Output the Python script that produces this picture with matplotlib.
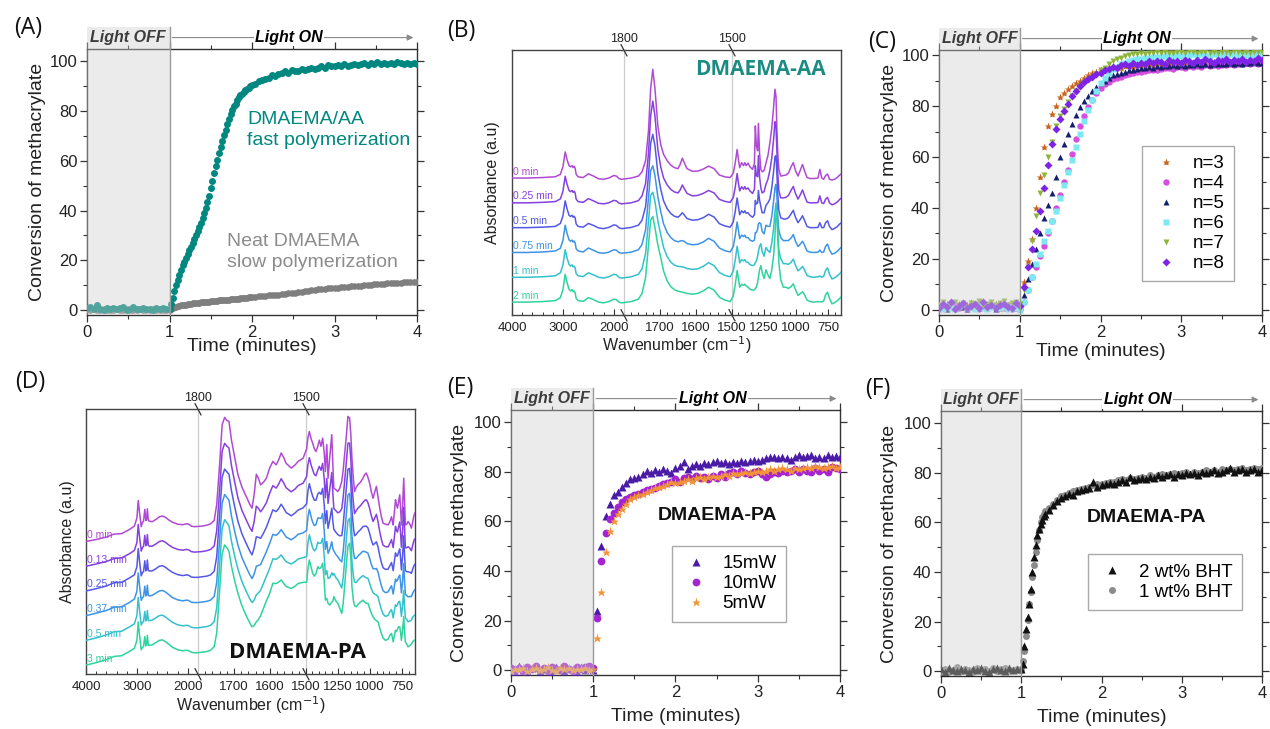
import numpy as np
import matplotlib
matplotlib.use('Agg')
import matplotlib.pyplot as plt
from matplotlib.patches import Rectangle
from matplotlib.ticker import FixedLocator, MultipleLocator, FuncFormatter

plt.rcParams['font.family'] = ['Liberation Sans', 'DejaVu Sans']

# ---------------- (A) kinetics, DMAEMA/AA vs neat DMAEMA ----------------
t_a = [0.00, 0.04, 0.08, 0.12, 0.16, 0.20, 0.24, 0.28, 0.32, 0.36,
       0.40, 0.44, 0.48, 0.52, 0.56, 0.60, 0.64, 0.68, 0.72, 0.76,
       0.80, 0.84, 0.88, 0.92, 0.96,
       1.00, 1.02, 1.04, 1.06, 1.08, 1.10, 1.12, 1.14, 1.16, 1.18,
       1.20, 1.22, 1.24, 1.26, 1.28, 1.30, 1.32, 1.34, 1.36, 1.38,
       1.40, 1.42, 1.44, 1.46, 1.48, 1.50, 1.52, 1.54, 1.56, 1.58,
       1.60, 1.62, 1.64, 1.66, 1.68, 1.70, 1.72, 1.74, 1.76, 1.78,
       1.80, 1.82, 1.84, 1.86, 1.88, 1.90, 1.92, 1.94, 1.96, 1.98,
       2.00, 2.04, 2.08, 2.12, 2.16, 2.20, 2.24, 2.28, 2.32, 2.36,
       2.40, 2.44, 2.48, 2.52, 2.56, 2.60, 2.64, 2.68, 2.72, 2.76,
       2.80, 2.84, 2.88, 2.92, 2.96, 3.00, 3.04, 3.08, 3.12, 3.16,
       3.20, 3.24, 3.28, 3.32, 3.36, 3.40, 3.44, 3.48, 3.52, 3.56,
       3.60, 3.64, 3.68, 3.72, 3.76, 3.80, 3.84, 3.88, 3.92, 3.96,
       4.00]
aa_fast = [0.8, 1.2, 0.4, 1.9, 0.6, 0.2, 1.0, 0.5, 0.9, 0.3,
           0.7, 1.1, 0.2, 0.6, 1.4, 0.5, 0.3, 0.9, 0.4, 0.6,
           0.2, 0.8, 0.5, 1.0, 0.3,
           0.5, 2.5, 5.0, 7.5, 10.0, 12.0, 14.0, 16.0, 18.0, 19.5,
           21.0, 22.5, 24.0, 25.5, 27.0, 28.5, 30.0, 31.8, 33.5, 35.2,
           37.0, 39.0, 41.0, 43.5, 46.0, 49.0, 52.0, 55.0, 58.0, 60.5,
           63.0, 65.5, 68.0, 70.3, 72.5, 74.8, 77.0, 79.0, 80.5, 82.0,
           83.0, 84.3, 85.5, 86.3, 87.0, 87.8, 88.5, 89.0, 89.5, 90.0,
           90.5, 91.0, 92.0, 92.5, 93.0, 93.5, 94.5, 94.3, 95.0, 95.5,
           96.0, 95.4, 96.5, 96.3, 96.0, 97.0, 96.5, 97.0, 97.5, 96.8,
           97.5, 98.0, 97.4, 98.5, 98.0, 98.0, 98.6, 98.2, 98.8, 98.3,
           98.6, 99.0, 98.4, 98.9, 99.3, 98.7, 99.4, 98.9, 99.6, 99.1,
           99.3, 98.8, 99.5, 99.0, 99.6, 99.2, 98.9, 99.4, 99.1, 99.5,
           98.9]
neat_slow = [0.3, 0.1, 0.4, 0.0, 0.2, 0.3, 0.1, 0.2, 0.0, 0.3,
             0.1, 0.2, 0.4, 0.1, 0.0, 0.2, 0.3, 0.1, 0.2, 0.1,
             0.3, 0.0, 0.2, 0.1, 0.2,
             0.1, 0.5, 0.8, 1.1, 1.3, 1.5, 1.7, 1.9, 2.0, 2.1,
             2.2, 2.4, 2.5, 2.6, 2.7, 2.8, 2.9, 2.95, 3.0, 3.1,
             3.2, 3.25, 3.3, 3.35, 3.4, 3.5, 3.5, 3.6, 3.7, 3.8,
             3.9, 3.95, 4.0, 4.05, 4.1, 4.2, 4.2, 4.3, 4.4, 4.45,
             4.5, 4.55, 4.6, 4.7, 4.8, 4.85, 4.9, 5.0, 5.1, 5.2,
             5.3, 5.4, 5.5, 5.6, 5.7, 5.9, 6.0, 6.1, 6.2, 6.4,
             6.5, 6.7, 6.9, 7.0, 7.2, 7.4, 7.6, 7.8, 7.9, 8.1,
             8.3, 8.4, 8.5, 8.7, 8.8, 8.9, 9.0, 9.2, 9.3, 9.4,
             9.5, 9.6, 9.7, 9.8, 9.9, 10.0, 10.2, 10.3, 10.4, 10.5,
             10.6, 10.7, 10.8, 10.9, 11.0, 11.0, 11.1, 11.2, 11.3, 11.3,
             11.4]

# ---------------- (C) and (E) kinetics ----------------
t_c = [0.00, 0.05, 0.10, 0.15, 0.20, 0.25, 0.30, 0.35, 0.40, 0.45,
       0.50, 0.55, 0.60, 0.65, 0.70, 0.75, 0.80, 0.85, 0.90, 0.95,
       1.00, 1.05, 1.10, 1.15, 1.20, 1.25, 1.30, 1.35, 1.40, 1.45,
       1.50, 1.55, 1.60, 1.65, 1.70, 1.75, 1.80, 1.85, 1.90, 1.95,
       2.00, 2.05, 2.10, 2.15, 2.20, 2.25, 2.30, 2.35, 2.40, 2.45,
       2.50, 2.55, 2.60, 2.65, 2.70, 2.75, 2.80, 2.85, 2.90, 2.95,
       3.00, 3.05, 3.10, 3.15, 3.20, 3.25, 3.30, 3.35, 3.40, 3.45,
       3.50, 3.55, 3.60, 3.65, 3.70, 3.75, 3.80, 3.85, 3.90, 3.95,
       4.00]
n3 = [1.5, 0.4, 2.2, 0.8, 1.2, 2.5, 0.6, 1.8, 0.9, 1.4,
      2.0, 0.7, 1.6, 1.1, 2.4, 0.5, 1.3, 1.9, 0.8, 1.5,
      2.0, 11.0, 19.0, 28.0, 40.0, 52.0, 64.0, 72.0, 77.0, 80.0,
      83.5, 85.0, 86.5, 88.0, 89.0, 90.0, 91.0, 92.0, 93.0, 93.5,
      94.0, 94.5, 94.0, 95.0, 95.5, 95.0, 95.8, 96.0, 95.5, 96.2,
      96.0, 95.6, 96.4, 96.0, 96.8, 96.2, 96.5, 97.0, 96.3, 96.8,
      96.5, 97.2, 96.6, 96.9, 97.4, 96.8, 97.1, 96.6, 97.3, 97.0,
      96.8, 97.4, 97.0, 96.7, 97.5, 97.1, 96.9, 97.6, 97.2, 97.0,
      97.3]
n4 = [0.5, 1.4, 0.2, 1.0, 2.0, 0.6, 1.2, 0.3, 1.6, 0.9,
      0.4, 1.5, 0.8, 2.1, 0.3, 1.1, 0.7, 1.8, 0.5, 1.2,
      0.5, 3.0, 8.0, 13.0, 17.0, 21.0, 25.0, 30.0, 35.0, 40.0,
      45.0, 50.0, 55.0, 61.0, 67.0, 72.0, 76.0, 79.5, 82.5, 85.0,
      87.0, 88.5, 89.5, 90.5, 91.0, 91.5, 92.0, 92.5, 92.8, 93.2,
      93.5, 93.8, 94.0, 94.3, 94.1, 94.6, 94.8, 95.0, 94.7, 95.2,
      95.3, 95.0, 95.6, 95.4, 95.8, 95.5, 96.0, 95.7, 96.2, 95.9,
      96.3, 96.0, 96.5, 96.2, 96.7, 96.4, 96.8, 96.5, 97.0, 96.7,
      97.0]
n5 = [1.0, 2.5, 0.5, 1.5, 0.8, 2.0, 1.2, 0.3, 3.0, 1.1,
      0.6, 1.8, 0.9, 2.2, 0.4, 1.4, 2.6, 0.7, 1.3, 0.9,
      1.0, 6.0, 12.0, 18.0, 24.0, 30.0, 36.0, 41.0, 46.0, 52.0,
      60.0, 65.0, 69.0, 73.0, 76.5, 79.5, 82.0, 84.0, 86.0, 87.5,
      89.0, 90.0, 91.0, 92.0, 92.5, 93.0, 93.5, 94.0, 94.3, 94.6,
      94.8, 95.0, 95.3, 95.1, 95.6, 95.4, 95.8, 95.6, 96.0, 95.8,
      96.1, 95.9, 96.3, 96.0, 96.4, 96.2, 96.5, 96.3, 96.6, 96.4,
      96.7, 96.5, 96.8, 96.6, 96.9, 96.7, 97.0, 96.8, 97.1, 96.9,
      97.0]
n6 = [1.2, 0.4, 1.8, 0.9, 0.3, 1.5, 2.2, 0.6, 1.1, 0.5,
      1.6, 0.8, 0.2, 1.3, 2.0, 0.7, 1.0, 0.4, 1.7, 0.9,
      0.0, 3.0, 8.0, 13.0, 18.0, 22.0, 27.0, 31.0, 35.0, 39.0,
      44.0, 49.0, 54.0, 59.0, 64.0, 69.0, 74.0, 78.5, 82.5, 86.0,
      89.0, 91.0, 93.0, 94.5, 95.5, 96.5, 97.0, 97.5, 98.0, 98.3,
      98.5, 98.8, 99.0, 99.2, 99.4, 99.3, 99.6, 99.8, 99.5, 100.0,
      99.8, 100.2, 99.9, 100.3, 100.0, 100.4, 100.1, 99.8, 100.3, 100.0,
      100.2, 99.9, 100.4, 100.1, 99.8, 100.3, 100.0, 100.2, 99.9, 100.4,
      100.1]
n7 = [2.0, 3.0, 1.5, 2.5, 3.2, 1.8, 2.6, 1.2, 2.9, 2.2,
      3.5, 1.6, 2.4, 3.1, 1.9, 2.7, 3.3, 2.0, 2.8, 3.0,
      2.5, 8.0, 17.0, 27.0, 37.0, 46.0, 53.0, 60.0, 66.0, 72.0,
      76.0, 79.0, 81.5, 84.0, 86.0, 88.0, 89.5, 90.5, 91.5, 92.5,
      94.0, 95.0, 96.5, 97.5, 98.5, 99.0, 99.5, 100.0, 100.3, 100.5,
      100.8, 100.5, 101.0, 100.7, 101.2, 100.9, 101.3, 101.0, 100.8, 101.4,
      101.1, 100.9, 101.5, 101.2, 101.0, 101.4, 101.1, 100.8, 101.3, 101.0,
      101.4, 101.1, 100.9, 101.5, 101.2, 101.0, 101.3, 100.9, 101.4, 101.1,
      101.2]
n8 = [0.8, 2.4, 1.0, 3.0, 0.5, 1.7, 2.8, 0.9, 1.5, 2.2,
      0.6, 3.2, 1.3, 2.0, 0.7, 1.9, 2.5, 1.1, 0.8, 2.7,
      1.5, 9.0, 17.0, 24.0, 31.0, 39.0, 48.0, 57.0, 65.0, 71.0,
      75.0, 78.0, 81.0, 84.0, 86.0, 88.0, 89.5, 90.5, 91.5, 92.5,
      93.0, 94.0, 94.5, 95.5, 95.0, 96.0, 96.5, 95.8, 96.8, 96.2,
      97.0, 96.5, 97.5, 96.8, 97.8, 97.2, 96.6, 98.0, 97.3, 97.8,
      97.0, 98.2, 97.5, 96.9, 98.0, 97.4, 98.5, 97.6, 97.0, 98.1,
      97.5, 98.4, 97.2, 98.0, 97.7, 98.6, 97.3, 98.2, 97.8, 99.0,
      98.0]
c_labels = ['n=3', 'n=4', 'n=5', 'n=6', 'n=7', 'n=8']

p15 = [0.5, -0.8, 1.5, 0.2, -0.5, 0.8, 1.2, -0.3, 0.6, 1.0,
       -0.6, 1.4, 0.3, -0.2, 0.9, 0.4, -0.7, 1.1, 0.2, 0.7,
       0.0, 24.0, 50.0, 62.0, 67.0, 70.5, 72.0, 74.0, 75.5, 77.0,
       77.5, 78.0, 79.0, 80.5, 79.5, 80.8, 80.0, 81.0, 80.5, 79.5,
       81.5, 82.5, 84.0, 81.0, 82.5, 83.0, 82.5, 83.5, 83.0, 84.0,
       84.5, 83.5, 84.0, 83.0, 84.0, 83.5, 84.5, 84.0, 84.5, 85.0,
       84.5, 84.8, 85.5, 86.0, 86.0, 85.5, 86.0, 85.5, 85.0, 86.0,
       87.0, 86.0, 86.5, 86.8, 85.5, 86.0, 85.5, 87.0, 86.0, 86.5,
       86.0]
p10 = [1.0, 0.2, 0.8, -0.5, 1.2, 0.4, 1.6, 0.1, 0.9, -0.3,
       1.3, 0.5, 0.0, 1.5, 0.6, -0.4, 1.1, 0.3, 1.4, 1.8,
       1.0, 21.0, 44.0, 55.5, 61.0, 63.5, 66.0, 68.0, 69.0, 70.0,
       70.5, 71.0, 72.0, 72.5, 73.0, 73.5, 74.5, 75.0, 75.5, 76.0,
       77.0, 76.0, 77.5, 78.0, 77.0, 78.5, 77.5, 78.0, 77.0, 78.5,
       77.5, 79.0, 78.0, 79.5, 80.0, 79.0, 80.5, 79.5, 79.0, 80.0,
       80.5, 79.0, 78.0, 79.0, 80.0, 79.5, 80.5, 80.0, 80.5, 81.0,
       80.0, 81.0, 80.5, 80.0, 81.5, 80.5, 81.0, 80.0, 82.0, 81.5,
       81.0]
p5 = [-0.5, 0.6, 0.3, 1.0, -0.2, 0.5, 0.8, 0.0, 0.4, 1.1,
      0.2, -0.4, 0.7, 0.3, 0.9, -0.1, 0.6, 0.4, 0.8, 0.2,
      0.5, 13.0, 31.5, 47.5, 56.0, 60.0, 63.0, 65.0, 67.0, 69.0,
      70.0, 70.5, 71.0, 72.0, 72.5, 73.5, 74.0, 74.5, 75.0, 76.0,
      75.5, 76.0, 76.5, 77.0, 76.5, 77.5, 78.0, 77.0, 78.0, 78.5,
      78.0, 78.5, 79.0, 78.5, 79.5, 79.0, 79.5, 80.0, 79.5, 80.0,
      80.5, 80.0, 80.5, 81.0, 80.5, 81.0, 81.5, 81.0, 80.5, 81.5,
      81.0, 81.5, 82.0, 81.5, 82.5, 82.0, 81.5, 82.0, 82.5, 81.5,
      82.0]
e_labels = ['15mW', '10mW', '5mW']

# ---------------- (F) kinetics ----------------
t_f = [0.00, 0.05, 0.10, 0.15, 0.20, 0.25, 0.30, 0.35, 0.40, 0.45,
       0.50, 0.55, 0.60, 0.65, 0.70, 0.75, 0.80, 0.85, 0.90, 0.95,
       1.00, 1.02, 1.04, 1.06, 1.08, 1.10, 1.12, 1.14, 1.16, 1.18,
       1.20, 1.22, 1.24, 1.26, 1.28, 1.30,
       1.35, 1.40, 1.45, 1.50, 1.55, 1.60, 1.65, 1.70, 1.75, 1.80,
       1.85, 1.90, 1.95, 2.00, 2.05, 2.10, 2.15, 2.20, 2.25, 2.30,
       2.35, 2.40, 2.45, 2.50, 2.55, 2.60, 2.65, 2.70, 2.75, 2.80,
       2.85, 2.90, 2.95, 3.00, 3.05, 3.10, 3.15, 3.20, 3.25, 3.30,
       3.35, 3.40, 3.45, 3.50, 3.55, 3.60, 3.65, 3.70, 3.75, 3.80,
       3.85, 3.90, 3.95, 4.00]
bht2 = [0.8, -0.3, 1.2, 0.5, 0.0, 1.0, 0.3, -0.4, 0.9, 0.6,
        1.4, 0.2, -0.2, 0.7, 1.1, 0.4, 0.0, 1.3, 0.5, 0.9,
        1.0, 3.0, 10.0, 17.0, 22.0, 27.0, 33.0, 40.0, 46.0, 51.0,
        55.0, 57.5, 59.5, 61.0, 62.5, 63.5,
        65.0, 67.0, 68.5, 70.0, 70.5, 71.5, 71.0, 72.5, 73.0, 73.5,
        74.0, 76.5, 74.5, 75.0, 75.5, 76.0, 75.5, 76.5, 77.0, 76.5,
        78.5, 77.0, 77.5, 78.0, 77.5, 78.5, 78.0, 79.0, 78.5, 79.0,
        79.5, 78.5, 79.5, 79.0, 80.0, 79.5, 80.0, 79.0, 80.5, 80.0,
        80.5, 81.0, 80.0, 80.5, 81.0, 82.0, 80.5, 81.0, 81.5, 80.5,
        81.0, 81.5, 80.5, 81.0]
bht1 = [0.3, 1.0, -0.2, 0.6, 1.5, 0.1, 0.8, 0.4, -0.3, 1.2,
        0.5, 0.9, 0.2, 1.3, -0.1, 0.7, 1.1, 0.3, 0.6, 1.0,
        0.5, 4.0, 8.0, 14.0, 20.5, 27.0, 32.0, 38.0, 43.0, 48.0,
        53.0, 57.0, 60.0, 62.0, 63.5, 64.5,
        66.0, 67.5, 69.0, 70.5, 71.0, 72.0, 72.5, 73.0, 73.5, 74.0,
        74.5, 75.0, 75.5, 75.5, 76.0, 76.5, 76.5, 77.0, 77.5, 77.0,
        78.0, 77.5, 78.0, 78.5, 78.0, 79.0, 78.5, 79.0, 79.5, 79.0,
        79.5, 80.0, 79.5, 80.0, 80.5, 79.5, 80.5, 80.0, 80.5, 81.0,
        80.5, 81.0, 80.5, 81.5, 81.0, 81.5, 81.0, 81.5, 82.0, 81.0,
        81.5, 82.0, 81.5, 82.0]
f_labels = ['2 wt% BHT', '1 wt% BHT']

# ---------------- (B) FTIR spectra, DMAEMA-AA ----------------
wn_b = [4000, 3700, 3400, 3150, 3050, 3000, 2955, 2920, 2880, 2850,
        2820, 2800, 2780, 2760, 2740, 2700, 2600, 2500, 2400, 2300,
        2200, 2100, 2000, 1950, 1900, 1850, 1800,
        1780, 1760, 1750, 1740, 1732, 1726, 1720, 1714, 1706, 1698,
        1690, 1680, 1670, 1660, 1650, 1644, 1638, 1632, 1625, 1610,
        1595, 1580, 1565, 1550, 1535, 1520, 1505,
        1490, 1475, 1460, 1450, 1440, 1425, 1410, 1400, 1390, 1375,
        1360, 1340, 1325, 1318, 1310, 1300, 1294, 1285, 1275, 1265,
        1250, 1235, 1220, 1205, 1190, 1175, 1165, 1157, 1150, 1143,
        1135, 1120, 1100, 1080, 1060, 1040, 1022, 1005, 985, 965,
        950, 935, 915, 890, 860, 830, 815, 800, 785, 770,
        755, 740, 720, 700, 680, 660, 650]
b_0 = [0.0, 0.0, 0.02, 0.05, 0.15, 0.45, 1.05, 0.75, 0.5, 0.45,
       0.5, 0.42, 0.48, 0.4, 0.15, 0.05, 0.02, 0.17, 0.08, -0.03,
       -0.05, 0.0, 0.1, 0.08, -0.02, -0.05, -0.04,
       0.0, 0.08, 0.25, 0.7, 1.9, 3.6, 4.38, 3.6, 2.1, 1.35,
       0.95, 0.7, 0.52, 0.42, 0.38, 0.55, 0.8, 0.6, 0.38, 0.27,
       0.28, 0.36, 0.48, 0.38, 0.12, 0.05, 0.02,
       0.2, 0.6, 1.15, 0.75, 0.42, 0.62, 0.5, 0.62, 0.5, 0.6,
       0.45, 0.35, 0.6, 2.1, 1.3, 1.1, 2.2, 1.0, 0.35, 0.25,
       0.3, 0.6, 0.9, 1.4, 2.0, 2.9, 3.58, 3.3, 2.0, 1.0,
       0.35, 0.08, 0.1, 0.12, 0.2, 0.45, 0.62, 0.3, 0.08, 0.35,
       0.55, 0.3, 0.02, -0.02, -0.02, 0.0, 0.35, 0.0, -0.05, 0.1,
       0.16, -0.05, -0.08, -0.05, 0.02, 0.12, 0.16]
b_025 = [0.0, 0.0, 0.02, 0.05, 0.16, 0.46, 1.07, 0.76, 0.5, 0.45,
         0.5, 0.42, 0.47, 0.4, 0.15, 0.05, 0.02, 0.17, 0.08, -0.02,
         -0.04, 0.0, 0.1, 0.08, -0.01, -0.04, -0.03,
         0.0, 0.09, 0.28, 0.78, 2.0, 3.5, 4.1, 3.5, 2.15, 1.45,
         1.0, 0.72, 0.54, 0.44, 0.4, 0.52, 0.72, 0.56, 0.38, 0.28,
         0.3, 0.38, 0.5, 0.4, 0.14, 0.06, 0.02,
         0.22, 0.62, 1.18, 0.8, 0.48, 0.65, 0.55, 0.65, 0.55, 0.6,
         0.48, 0.38, 0.55, 1.5, 1.1, 1.05, 1.9, 1.05, 0.6, 0.4,
         0.45, 0.75, 0.95, 1.3, 1.8, 2.6, 3.27, 3.1, 2.1, 1.2,
         0.5, 0.2, 0.2, 0.22, 0.3, 0.5, 0.66, 0.38, 0.15, 0.35,
         0.52, 0.3, 0.03, 0.0, 0.0, 0.01, 0.28, 0.0, -0.03, 0.15,
         0.22, 0.0, -0.08, -0.04, 0.03, 0.14, 0.18]
b_05 = [0.0, 0.0, 0.02, 0.05, 0.17, 0.47, 1.08, 0.77, 0.5, 0.45,
        0.5, 0.42, 0.46, 0.39, 0.15, 0.05, 0.02, 0.17, 0.09, -0.01,
        -0.04, 0.01, 0.11, 0.09, 0.0, -0.04, -0.03,
        0.01, 0.1, 0.3, 0.85, 2.1, 3.4, 3.76, 3.3, 2.2, 1.55,
        1.08, 0.76, 0.57, 0.46, 0.42, 0.5, 0.6, 0.5, 0.37, 0.3,
        0.32, 0.4, 0.54, 0.43, 0.16, 0.07, 0.02,
        0.23, 0.65, 1.2, 0.85, 0.52, 0.68, 0.6, 0.68, 0.58, 0.6,
        0.5, 0.42, 0.52, 1.1, 0.95, 1.0, 1.5, 1.1, 0.85, 0.6,
        0.6, 0.9, 1.0, 1.15, 1.6, 2.3, 2.86, 2.9, 2.2, 1.35,
        0.7, 0.4, 0.35, 0.35, 0.4, 0.55, 0.7, 0.42, 0.2, 0.35,
        0.48, 0.3, 0.05, 0.0, 0.0, 0.01, 0.2, 0.0, 0.0, 0.2,
        0.28, 0.05, -0.08, -0.03, 0.04, 0.15, 0.19]
b_075 = [0.0, 0.0, 0.02, 0.06, 0.17, 0.48, 1.1, 0.78, 0.51, 0.45,
         0.5, 0.42, 0.46, 0.39, 0.15, 0.06, 0.02, 0.18, 0.09, -0.01,
         -0.03, 0.01, 0.11, 0.09, 0.0, -0.03, -0.02,
         0.01, 0.11, 0.32, 0.92, 2.2, 3.3, 3.49, 3.1, 2.25, 1.65,
         1.15, 0.8, 0.6, 0.48, 0.43, 0.46, 0.48, 0.44, 0.36, 0.31,
         0.33, 0.42, 0.57, 0.45, 0.18, 0.07, 0.02,
         0.24, 0.67, 1.23, 0.9, 0.56, 0.7, 0.64, 0.7, 0.6, 0.6,
         0.5, 0.45, 0.5, 0.8, 0.8, 0.95, 1.15, 1.2, 1.15, 0.85,
         0.75, 1.1, 1.05, 1.05, 1.45, 2.1, 2.6, 2.75, 2.3, 1.45,
         0.9, 0.6, 0.48, 0.48, 0.48, 0.58, 0.72, 0.45, 0.24, 0.35,
         0.45, 0.3, 0.06, 0.01, 0.0, 0.01, 0.1, 0.0, 0.02, 0.25,
         0.34, 0.1, -0.07, -0.03, 0.04, 0.15, 0.2]
b_1 = [0.0, 0.0, 0.02, 0.06, 0.18, 0.49, 1.11, 0.79, 0.52, 0.45,
       0.5, 0.42, 0.45, 0.38, 0.15, 0.06, 0.03, 0.18, 0.1, 0.0,
       -0.03, 0.02, 0.12, 0.1, 0.0, -0.03, -0.02,
       0.02, 0.12, 0.34, 0.97, 2.25, 3.3, 3.43, 3.05, 2.28, 1.72,
       1.2, 0.83, 0.61, 0.49, 0.44, 0.43, 0.42, 0.4, 0.35, 0.32,
       0.34, 0.44, 0.59, 0.47, 0.19, 0.08, 0.02,
       0.25, 0.69, 1.25, 0.93, 0.58, 0.71, 0.66, 0.71, 0.62, 0.6,
       0.51, 0.47, 0.5, 0.6, 0.65, 0.85, 1.05, 1.25, 1.35, 1.05,
       0.85, 1.2, 1.08, 1.0, 1.38, 2.0, 2.65, 3.0, 2.5, 1.55,
       1.1, 0.75, 0.55, 0.55, 0.52, 0.6, 0.73, 0.48, 0.26, 0.35,
       0.44, 0.3, 0.07, 0.02, 0.0, 0.02, 0.05, 0.0, 0.04, 0.28,
       0.38, 0.12, -0.07, -0.02, 0.05, 0.15, 0.2]
b_2 = [0.0, 0.0, 0.02, 0.06, 0.18, 0.5, 1.12, 0.8, 0.52, 0.45,
       0.5, 0.42, 0.45, 0.38, 0.15, 0.06, 0.03, 0.18, 0.1, 0.0,
       -0.03, 0.02, 0.12, 0.1, 0.0, -0.03, -0.02,
       0.02, 0.12, 0.35, 1.0, 2.3, 3.3, 3.45, 3.0, 2.3, 1.8,
       1.25, 0.85, 0.62, 0.5, 0.44, 0.42, 0.4, 0.38, 0.35, 0.32,
       0.35, 0.45, 0.6, 0.48, 0.2, 0.08, 0.02,
       0.25, 0.7, 1.27, 0.95, 0.6, 0.72, 0.68, 0.72, 0.65, 0.6,
       0.52, 0.48, 0.5, 0.55, 0.6, 0.8, 1.0, 1.3, 1.47, 1.2,
       0.95, 1.3, 1.1, 0.95, 1.3, 1.9, 2.7, 3.5, 3.7, 3.0,
       1.6, 0.9, 0.6, 0.6, 0.55, 0.62, 0.74, 0.5, 0.27, 0.35,
       0.42, 0.3, 0.08, 0.02, 0.0, 0.02, 0.02, 0.0, 0.05, 0.3,
       0.4, 0.15, -0.07, -0.02, 0.05, 0.15, 0.2]
b_labels = ['0 min', '0.25 min', '0.5 min', '0.75 min', '1 min', '2 min']

# ---------------- (D) FTIR spectra, DMAEMA-PA ----------------
wn_d = [4000, 3800, 3600, 3450, 3300, 3150, 3050, 3000, 2974, 2950,
        2915, 2890, 2870, 2845, 2825, 2810, 2795, 2775, 2750, 2700,
        2620, 2560, 2500, 2440, 2380, 2300, 2200, 2100, 2020, 1980,
        1930, 1870, 1800,
        1790, 1775, 1765, 1755, 1748, 1740, 1733, 1726, 1720, 1714,
        1707, 1698, 1689, 1678, 1666, 1656, 1650, 1644, 1638, 1632,
        1626, 1618, 1610, 1601, 1592, 1583, 1576, 1569, 1562, 1555,
        1541, 1530, 1522, 1508,
        1495, 1485, 1474, 1460, 1448, 1435, 1422, 1408, 1396, 1383,
        1370, 1358, 1349, 1338, 1328, 1315, 1299, 1290, 1283, 1268,
        1252, 1237, 1221, 1210, 1199, 1185, 1173, 1160, 1150, 1142,
        1130, 1121, 1108, 1095, 1075, 1056, 1043, 1030, 1017, 1004,
        990, 977, 964, 951, 938, 925, 912, 899, 880, 860,
        846, 833, 826, 820, 811, 802, 795, 787, 778, 769,
        762, 756, 747, 738, 731, 725, 714, 704, 690, 678,
        668, 657, 650]
d_0 = [0.0, 0.08, 0.18, 0.3, 0.32, 0.48, 0.62, 0.95, 1.66, 1.2,
       0.6, 0.78, 0.82, 1.3, 0.85, 0.9, 1.32, 0.85, 0.82, 0.8,
       0.9, 1.0, 1.03, 0.98, 0.88, 0.78, 0.7, 0.68, 0.72, 0.7,
       0.62, 0.6, 0.61,
       0.62, 0.66, 0.72, 0.85, 1.5, 3.1, 4.72, 5.02, 4.9, 4.86,
       4.1, 3.4, 2.7, 2.2, 1.82, 1.5, 1.35, 1.9, 2.72, 2.55,
       2.29, 2.4, 2.56, 2.97, 3.24, 3.1, 3.3, 3.58, 3.4, 3.16,
       2.97, 3.1, 3.24, 3.37,
       3.75, 4.2, 4.45, 4.15, 3.98, 3.75, 3.64, 3.85, 4.1, 3.85,
       4.18, 3.6, 2.83, 3.92, 2.56, 3.4, 4.32, 3.0, 2.16, 2.1,
       2.02, 2.15, 2.43, 2.9, 3.51, 4.3, 5.06, 5.0, 4.3, 3.37,
       2.5, 2.02, 2.2, 2.3, 2.4, 2.56, 2.7, 2.77, 2.6, 2.36,
       2.0, 1.75, 2.0, 2.23, 1.8, 1.35, 1.0, 0.74, 0.7, 0.67,
       0.8, 1.0, 0.8, 0.67, 1.2, 1.69, 1.5, 1.35, 1.6, 1.89,
       1.3, 0.67, 1.4, 2.56, 1.5, 0.67, 0.7, 0.81, 0.7, 0.54,
       0.8, 1.08, 1.15]
d_013 = [0.0, 0.09, 0.19, 0.31, 0.34, 0.5, 0.64, 0.96, 1.69, 1.21,
         0.61, 0.76, 0.8, 1.25, 0.83, 0.88, 1.28, 0.84, 0.81, 0.81,
         0.91, 1.0, 1.03, 0.97, 0.87, 0.76, 0.68, 0.65, 0.68, 0.66,
         0.59, 0.57, 0.58,
         0.59, 0.63, 0.68, 0.82, 1.44, 3.07, 4.65, 4.97, 4.86, 4.78,
         4.07, 3.4, 2.76, 2.26, 1.87, 1.56, 1.41, 1.81, 2.43, 2.34,
         2.2, 2.37, 2.57, 2.95, 3.26, 3.16, 3.32, 3.54, 3.37, 3.17,
         3.01, 3.13, 3.26, 3.36,
         3.63, 4.11, 4.39, 4.09, 3.9, 3.71, 3.66, 3.89, 4.04, 3.88,
         4.16, 3.54, 2.77, 3.55, 2.54, 3.11, 3.79, 2.88, 2.34, 2.25,
         2.16, 2.2, 2.33, 2.78, 3.41, 4.24, 4.98, 4.98, 4.3, 3.31,
         2.53, 2.13, 2.25, 2.35, 2.45, 2.58, 2.66, 2.69, 2.57, 2.34,
         2.03, 1.81, 1.96, 2.1, 1.79, 1.4, 1.08, 0.85, 0.79, 0.78,
         0.92, 1.08, 0.89, 0.75, 1.2, 1.61, 1.46, 1.38, 1.59, 1.79,
         1.3, 0.77, 1.4, 2.38, 1.44, 0.75, 0.75, 0.79, 0.73, 0.63,
         0.85, 1.06, 1.11]
d_025 = [0.0, 0.09, 0.2, 0.33, 0.35, 0.52, 0.65, 0.98, 1.71, 1.23,
         0.61, 0.75, 0.78, 1.22, 0.81, 0.86, 1.25, 0.82, 0.81, 0.81,
         0.91, 1.0, 1.02, 0.96, 0.86, 0.75, 0.66, 0.62, 0.65, 0.63,
         0.56, 0.55, 0.55,
         0.57, 0.6, 0.65, 0.8, 1.39, 3.05, 4.6, 4.93, 4.82, 4.72,
         4.05, 3.4, 2.81, 2.31, 1.92, 1.61, 1.46, 1.74, 2.19, 2.17,
         2.13, 2.34, 2.58, 2.93, 3.28, 3.21, 3.33, 3.51, 3.35, 3.17,
         3.04, 3.16, 3.27, 3.36,
         3.53, 4.04, 4.34, 4.04, 3.83, 3.67, 3.67, 3.92, 3.99, 3.91,
         4.15, 3.49, 2.72, 3.25, 2.53, 2.87, 3.35, 2.78, 2.5, 2.38,
         2.28, 2.23, 2.24, 2.68, 3.33, 4.19, 4.92, 4.96, 4.3, 3.27,
         2.56, 2.23, 2.29, 2.38, 2.48, 2.6, 2.62, 2.62, 2.55, 2.33,
         2.05, 1.86, 1.92, 1.99, 1.77, 1.43, 1.15, 0.94, 0.87, 0.88,
         1.02, 1.15, 0.97, 0.82, 1.2, 1.54, 1.42, 1.41, 1.57, 1.7,
         1.3, 0.85, 1.4, 2.23, 1.39, 0.82, 0.78, 0.77, 0.76, 0.71,
         0.88, 1.04, 1.08]
d_037 = [0.0, 0.1, 0.21, 0.34, 0.36, 0.53, 0.67, 0.99, 1.73, 1.24,
         0.62, 0.73, 0.77, 1.19, 0.8, 0.84, 1.23, 0.81, 0.8, 0.82,
         0.92, 1.0, 1.02, 0.96, 0.86, 0.73, 0.64, 0.6, 0.63, 0.61,
         0.54, 0.53, 0.53,
         0.55, 0.58, 0.63, 0.78, 1.35, 3.03, 4.55, 4.9, 4.79, 4.67,
         4.03, 3.4, 2.85, 2.35, 1.96, 1.65, 1.5, 1.68, 2.0, 2.03,
         2.07, 2.33, 2.59, 2.92, 3.29, 3.25, 3.34, 3.48, 3.33, 3.18,
         3.07, 3.18, 3.29, 3.35,
         3.45, 3.98, 4.3, 4.0, 3.78, 3.64, 3.69, 3.95, 3.95, 3.93,
         4.13, 3.45, 2.68, 3.0, 2.52, 2.67, 2.99, 2.7, 2.62, 2.48,
         2.38, 2.26, 2.18, 2.6, 3.26, 4.15, 4.87, 4.95, 4.3, 3.23,
         2.58, 2.31, 2.32, 2.41, 2.51, 2.61, 2.59, 2.57, 2.53, 2.32,
         2.07, 1.9, 1.89, 1.91, 1.76, 1.46, 1.21, 1.01, 0.93, 0.96,
         1.1, 1.21, 1.03, 0.87, 1.2, 1.48, 1.39, 1.43, 1.56, 1.64,
         1.3, 0.92, 1.4, 2.11, 1.35, 0.87, 0.81, 0.76, 0.78, 0.77,
         0.91, 1.02, 1.05]
d_05 = [0.0, 0.1, 0.22, 0.35, 0.37, 0.54, 0.67, 1.0, 1.74, 1.25,
        0.62, 0.73, 0.76, 1.17, 0.79, 0.83, 1.21, 0.8, 0.8, 0.82,
        0.92, 1.0, 1.02, 0.95, 0.85, 0.73, 0.63, 0.59, 0.61, 0.59,
        0.53, 0.51, 0.51,
        0.53, 0.56, 0.61, 0.76, 1.32, 3.01, 4.52, 4.88, 4.77, 4.63,
        4.01, 3.4, 2.88, 2.38, 1.98, 1.68, 1.53, 1.63, 1.85, 1.92,
        2.03, 2.31, 2.6, 2.91, 3.3, 3.28, 3.35, 3.46, 3.31, 3.18,
        3.09, 3.19, 3.29, 3.35,
        3.39, 3.93, 4.27, 3.97, 3.74, 3.62, 3.69, 3.97, 3.92, 3.94,
        4.13, 3.42, 2.65, 2.82, 2.51, 2.53, 2.73, 2.64, 2.71, 2.55,
        2.45, 2.29, 2.12, 2.54, 3.21, 4.12, 4.83, 4.94, 4.3, 3.2,
        2.59, 2.36, 2.34, 2.44, 2.54, 2.62, 2.57, 2.53, 2.51, 2.31,
        2.08, 1.93, 1.87, 1.84, 1.76, 1.49, 1.25, 1.06, 0.97, 1.01,
        1.16, 1.25, 1.07, 0.91, 1.2, 1.44, 1.37, 1.44, 1.56, 1.58,
        1.3, 0.97, 1.4, 2.02, 1.32, 0.91, 0.84, 0.75, 0.79, 0.82,
        0.94, 1.01, 1.03]
d_3 = [0.0, 0.1, 0.22, 0.35, 0.38, 0.55, 0.68, 1.0, 1.75, 1.25,
       0.62, 0.72, 0.75, 1.15, 0.78, 0.82, 1.2, 0.8, 0.8, 0.82,
       0.92, 1.0, 1.02, 0.95, 0.85, 0.72, 0.62, 0.58, 0.6, 0.58,
       0.52, 0.5, 0.5,
       0.52, 0.55, 0.6, 0.75, 1.3, 3.0, 4.5, 4.86, 4.75, 4.6,
       4.0, 3.4, 2.9, 2.4, 2.0, 1.7, 1.55, 1.6, 1.75, 1.85,
       2.0, 2.3, 2.6, 2.9, 3.31, 3.3, 3.35, 3.45, 3.3, 3.18,
       3.1, 3.2, 3.3, 3.35,
       3.35, 3.9, 4.25, 3.95, 3.71, 3.6, 3.7, 3.98, 3.9, 3.95,
       4.12, 3.4, 2.63, 2.7, 2.5, 2.43, 2.55, 2.6, 2.77, 2.6,
       2.5, 2.3, 2.09, 2.5, 3.18, 4.1, 4.8, 4.93, 4.3, 3.18,
       2.6, 2.4, 2.36, 2.45, 2.55, 2.63, 2.55, 2.5, 2.5, 2.3,
       2.09, 1.95, 1.85, 1.8, 1.75, 1.5, 1.28, 1.1, 1.0, 1.05,
       1.2, 1.28, 1.1, 0.94, 1.2, 1.41, 1.35, 1.45, 1.55, 1.55,
       1.3, 1.0, 1.4, 1.96, 1.3, 0.94, 0.85, 0.74, 0.8, 0.85,
       0.95, 1.0, 1.02]
d_labels = ['0 min', '0.13 min', '0.25 min', '0.37 min', '0.5 min', '3 min']

spec_colors = ['#b04ad4', '#8640e0', '#5458e6', '#3d94e6', '#34c1cc', '#2fd39e']
teal = '#00877f'


# ---------- helpers ----------
def _u(w):
    # position (px along a 329 px axis) of a wavenumber on the broken axis
    w = np.asarray(w, dtype=float)
    return np.where(w >= 1800, (4000 - w) * 112 / 2200,
                    np.where(w >= 1500, 112 + (1800 - w) * 108 / 300,
                             220 + (1500 - w) * 109 / 850))


def _fwd(w):
    return 329 - _u(w)


def _inv(g):
    u = 329 - np.asarray(g, dtype=float)
    return np.where(u <= 112, 4000 - u * 2200 / 112,
                    np.where(u <= 220, 1800 - (u - 112) * 300 / 108,
                             1500 - (u - 220) * 850 / 109))


def kinetic_axes(ax, ytop):
    ax.set_xlim(0, 4)
    ax.set_ylim(-2, ytop)
    ax.xaxis.set_major_locator(MultipleLocator(1))
    ax.xaxis.set_minor_locator(MultipleLocator(0.5))
    ax.yaxis.set_major_locator(MultipleLocator(20))
    ax.yaxis.set_minor_locator(MultipleLocator(10))
    ax.tick_params(which='both', top=True, right=True, direction='out',
                   labelsize=12, colors='#333333', labelcolor='#222222')
    ax.tick_params(which='major', length=5, width=0.9, pad=2)
    ax.tick_params(which='minor', length=3, width=0.8)
    for s in ax.spines.values():
        s.set_color('#333333')
        s.set_linewidth(1.0)
    ax.set_ylabel('Conversion of methacrylate', fontsize=14, color='#222222')
    ax.set_xlabel('Time (minutes)', fontsize=14, color='#222222')

    # Light OFF / Light ON header
    tr = ax.get_xaxis_transform()
    ax.add_patch(Rectangle((0, 0), 1, 1.083, transform=tr, facecolor='#cfcfcf',
                           alpha=0.4, edgecolor='none', zorder=5, clip_on=False))
    ax.plot([1, 1], [0, 1.083], transform=tr, color='#9a9a9a', lw=1.0,
            clip_on=False, zorder=6)
    ax.annotate('', xy=(3.99, 1.043), xytext=(1, 1.043), xycoords=tr,
                arrowprops=dict(arrowstyle='-|>', color='#8a8a8a', lw=0.8,
                                mutation_scale=9), annotation_clip=False)
    ax.text(0.5, 1.043, 'Light OFF', transform=tr, ha='center', va='center',
            fontsize=11.5, fontweight='bold', style='italic', color='#3c3c3c', zorder=7)
    ax.text(2.45, 1.043, 'Light ON', transform=tr, ha='center', va='center',
            fontsize=11.5, fontweight='bold', style='italic', color='black', zorder=7,
            bbox=dict(facecolor='white', edgecolor='none', pad=1.0))


def spectra_axes(ax, wn, traces, labels, ylo, yhi):
    n = len(traces)
    for k, (vals, lab, col) in enumerate(zip(traces, labels, spec_colors)):
        off = n - 1 - k
        ax.plot(wn, np.asarray(vals) + off, color=col, lw=1.1, zorder=3)
        ax.text(3985, off + 0.06, lab, color=col, fontsize=7.5, ha='left', va='bottom')
    ax.set_xscale('function', functions=(_fwd, _inv))
    ax.set_xlim(4000, 650)
    ax.set_ylim(ylo, yhi)
    ax.set_yticks([])
    ax.xaxis.set_major_locator(FixedLocator([4000, 3000, 2000, 1700, 1600, 1500, 1250, 1000, 750]))
    minors = [3800, 3600, 3400, 3200, 2800, 2600, 2400, 2200,
              1780, 1760, 1740, 1720, 1680, 1660, 1640, 1620, 1580, 1560, 1540, 1520,
              1450, 1400, 1350, 1300, 1200, 1150, 1100, 1050, 950, 900, 850, 800, 700]
    ax.xaxis.set_minor_locator(FixedLocator(minors))
    ax.xaxis.set_major_formatter(FuncFormatter(lambda v, p: '%d' % round(v)))
    ax.tick_params(axis='x', which='both', direction='in', labelsize=9.5,
                   colors='#333333', labelcolor='#222222', pad=5)
    ax.tick_params(axis='x', which='major', length=4, width=0.8)
    ax.tick_params(axis='x', which='minor', length=2.5, width=0.7)
    for s in ax.spines.values():
        s.set_color('#444444')
        s.set_linewidth(1.0)
    ax.set_xlabel('Wavenumber (cm$^{-1}$)', fontsize=11.5, color='#222222')
    ax.set_ylabel('Absorbance (a.u)', fontsize=11.5, color='#222222')
    # axis breaks at 1800 and 1500
    for w in (1800, 1500):
        xa = float(_u(w)) / 329
        ax.axvline(w, color='#cccccc', lw=0.9, zorder=1)
        for ya in (1.0, 0.0):
            ax.plot([xa - 0.009, xa + 0.009], [ya + 0.02, ya - 0.022],
                    transform=ax.transAxes, color='#333333', lw=0.9, clip_on=False)
        ax.text(xa, 1.04, str(w), transform=ax.transAxes, ha='center', va='center',
                fontsize=9, color='#222222')


fig = plt.figure(figsize=(12.7, 7.29), dpi=100)
W, H = 1270.0, 729.0


def add_ax(left, top, right, bottom):
    return fig.add_axes([left / W, 1 - bottom / H, (right - left) / W, (bottom - top) / H])


# ---------- (A) ----------
axA = add_ax(87, 49, 417, 315)
axA.plot(t_a, neat_slow, 'o', color='#7f7f7f', ms=4.8, mec='none', zorder=3)
axA.plot(t_a, aa_fast, 'o', color=teal, ms=5.0, mec='none', zorder=4)
kinetic_axes(axA, 105)
axA.text(1.94, 72.4, 'DMAEMA/AA\nfast polymerization', color=teal, fontsize=14,
         ha='left', va='center', linespacing=1.3)
axA.text(1.70, 23.2, 'Neat DMAEMA\nslow polymerization', color='#8c8c8c', fontsize=14,
         ha='left', va='center', linespacing=1.3)
axA.yaxis.set_label_coords(-0.125, 0.5)
axA.xaxis.set_label_coords(0.5, -0.088)

# ---------- (B) ----------
axB = add_ax(512, 50, 841, 315)
spectra_axes(axB, wn_b, [b_0, b_025, b_05, b_075, b_1, b_2], b_labels, -0.52, 10.16)
axB.text(0.754, 0.925, 'DMAEMA-AA', transform=axB.transAxes, ha='center', va='center',
         fontsize=15, fontweight='bold', color='#1b8c82', family=['Open Sans', 'DejaVu Sans'])
axB.yaxis.set_label_coords(-0.035, 0.5)
axB.xaxis.set_label_coords(0.5, -0.072)

# ---------- (C) ----------
axC = add_ax(939, 50, 1262, 315)
c_series = [n3, n4, n5, n6, n7, n8]
c_styles = [('*', '#c8641e', 6.0), ('o', '#d64ee0', 4.6), ('^', '#14206e', 4.8),
            ('s', '#7ee8f2', 4.4), ('v', '#8fb43c', 4.8), ('D', '#7e22e6', 4.0)]
for ys, lab, (m, col, ms) in zip(c_series, c_labels, c_styles):
    axC.plot(t_c, ys, m, color=col, ms=ms, mec='none', label=lab, zorder=3)
kinetic_axes(axC, 102)
axC.legend(loc='upper left', bbox_to_anchor=(0.628, 0.638), borderaxespad=0,
           fontsize=13.5, frameon=True, fancybox=False, edgecolor='#aaaaaa',
           framealpha=1, borderpad=0.5, handlelength=1.6, handletextpad=0.6,
           labelspacing=0.15, numpoints=1)
axC.yaxis.set_label_coords(-0.127, 0.5)
axC.xaxis.set_label_coords(0.5, -0.105)

# ---------- (D) ----------
axD = add_ax(86, 409, 415, 674)
spectra_axes(axD, wn_d, [d_0, d_013, d_025, d_037, d_05, d_3], d_labels, -0.36, 10.36)
axD.text(0.644, 0.083, 'DMAEMA-PA', transform=axD.transAxes, ha='center', va='center',
         fontsize=16, fontweight='bold', color='#111111', family=['Open Sans', 'DejaVu Sans'])
axD.yaxis.set_label_coords(-0.033, 0.5)
axD.xaxis.set_label_coords(0.5, -0.075)

# ---------- (E) ----------
axE = add_ax(511, 410, 840, 675)
e_styles = [('^', '#4a1ca6', 6.0), ('o', '#a423d2', 5.6), ('*', '#f39536', 6.5)]
for ys, lab, (m, col, ms) in zip([p15, p10, p5], e_labels, e_styles):
    axE.plot(t_c, ys, m, color=col, ms=ms, mec='none', label=lab, zorder=3)
kinetic_axes(axE, 105)
axE.text(0.629, 0.6, 'DMAEMA-PA', transform=axE.transAxes, ha='center', va='center',
         fontsize=14, fontweight='bold', color='#111111')
axE.legend(loc='upper left', bbox_to_anchor=(0.489, 0.487), borderaxespad=0,
           fontsize=13.5, frameon=True, fancybox=False, edgecolor='#aaaaaa',
           framealpha=1, borderpad=0.5, handlelength=1.6, handletextpad=0.6,
           labelspacing=0.15, numpoints=1)
axE.yaxis.set_label_coords(-0.13, 0.5)
axE.xaxis.set_label_coords(0.5, -0.125)

# ---------- (F) ----------
axF = add_ax(941, 411, 1262, 676)
axF.plot(t_f, bht1, 'o', color='#8a8a8a', ms=5.0, mec='none', label=f_labels[1], zorder=3)
axF.plot(t_f, bht2, '^', color='#111111', ms=5.4, mec='none', label=f_labels[0], zorder=4)
kinetic_axes(axF, 105)
axF.text(0.64, 0.6, 'DMAEMA-PA', transform=axF.transAxes, ha='center', va='center',
         fontsize=14, fontweight='bold', color='#111111')
hF, lF = axF.get_legend_handles_labels()
axF.legend(hF[::-1], lF[::-1], loc='upper left', bbox_to_anchor=(0.458, 0.46), borderaxespad=0,
           fontsize=13.5, frameon=True, fancybox=False, edgecolor='#aaaaaa',
           framealpha=1, borderpad=0.5, handlelength=1.6, handletextpad=0.6,
           labelspacing=0.15, numpoints=1)
axF.yaxis.set_label_coords(-0.133, 0.5)
axF.xaxis.set_label_coords(0.5, -0.125)

# ---------- panel letters ----------
for lab, x, y in [('(A)', 28, 28), ('(B)', 461, 31), ('(C)', 882, 42),
                  ('(D)', 30, 382), ('(E)', 460, 388), ('(F)', 878, 389)]:
    fig.text(x / W, 1 - y / H, lab, fontsize=16.5, ha='center', va='center',
             color='#111111', family=['Open Sans', 'DejaVu Sans'])

fig.savefig('out.png', dpi=100)
